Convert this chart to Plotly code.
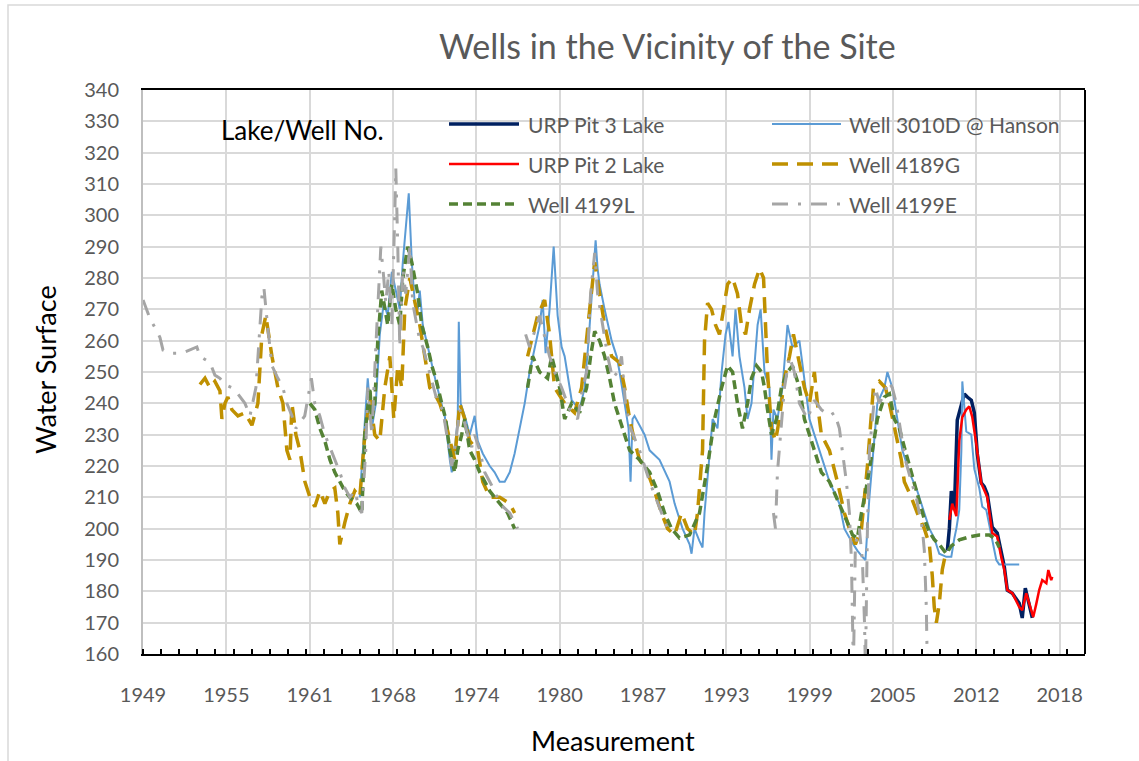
import datetime as dt
import plotly.graph_objects as go

# ---------------------------------------------------------------
# Water-surface records (decimal year, elevation); None = no record
# ---------------------------------------------------------------
pit3_year = [2010.06, 2010.21, 2010.36, 2010.51, 2010.59, 2010.81, 2011.12, 2011.34, 2011.57,
             2011.87, 2012.10, 2012.32, 2012.62, 2012.85, 2013.08, 2013.45, 2013.83, 2014.13,
             2014.36, 2014.59, 2014.97, 2015.49, 2015.72, 2015.95, 2016.10, 2016.48]
pit3_level = [193, 200, 212, 207, 206, 234.7, 240, 243, 242,
              241, 237, 224, 214.6, 213.4, 211, 200.5, 198.6, 193,
              188, 180.4, 179.4, 176.2, 171.5, 181, 178, 171.5]

w3010d_year = [1965.66, 1966.04, 1966.26, 1966.57, 1966.87, 1967.17, 1967.47, 1967.77, 1968.08,
               1968.38, 1968.68, 1968.91, 1969.21, 1969.36, 1969.59, 1969.81, 1970.04, 1970.19,
               1970.42, 1970.79, 1971.10, 1971.40, 1971.70, 1972.08, 1972.46, 1972.61, 1972.83,
               1973.06, 1973.14, 1973.28, 1973.59, 1973.97, 1974.34, 1974.57, 1974.95, 1975.48,
               1975.85, 1976.23, 1976.61, 1976.99, 1977.36, 1977.74, 1978.12, 1978.49, 1978.87,
               1979.25, 1979.48, 1979.70, 1980.00, 1980.31, 1980.61, 1980.91, 1981.14, 1981.67,
               1982.27, 1982.65, 1982.95, 1983.26, 1983.48, 1983.63, 1983.78, 1984.16, 1984.69,
               1985.07, 1985.29, 1985.67, 1985.97, 1986.12, 1986.27, 1986.42, 1987.18, 1987.56,
               1988.31, 1989.07, 1989.45, 1990.05, 1990.58, 1990.73, 1990.95, 1991.33, 1991.56,
               1991.71, 1992.09, 1992.32, 1992.69, 1993.00, 1993.30, 1993.52, 1993.83, 1994.05,
               1994.35, 1994.73, 1994.96, 1995.26, 1995.72, 1995.95, 1996.24, 1996.62, 1996.77,
               1996.92, 1997.22, 1997.60, 1997.98, 1998.13, 1998.35, 1998.88, 1999.33, 1999.64,
               2000.01, 2000.39, 2000.77, 2001.15, 2001.90, 2002.28, 2002.81, 2003.26, 2003.64,
               2003.87, 2004.17, 2004.77, 2005.30, 2005.53, 2005.90, 2006.28, 2006.66, 2007.19,
               2007.79, 2008.32, 2008.70, 2009.07, 2009.45, 2009.98, 2010.36, 2010.59, 2010.74,
               2010.96, 2011.12, 2011.19, 2011.34, 2011.49, 2011.87, 2012.10, 2012.47, 2012.70,
               2013.00, 2013.45, 2013.76, 2013.98, 2015.49]
w3010d_level = [210, 235, 248, 232, 240, 262, 272, 268, 282,
                276, 270, 285, 300, 307, 285, 272, 270, 276,
                265, 258, 252, 247, 242, 236, 222, 218, 225,
                235, 266, 240, 236, 230, 236, 228, 224, 220,
                218, 215, 215, 218, 224, 232, 240, 250, 258,
                265, 273, 256, 270, 290, 268, 258, 255, 241,
                238, 245, 260, 280, 292, 283, 278, 270, 260,
                255, 250, 240, 232, 215, 235, 236, 230, 225,
                222, 215, 208, 200, 195, 192, 200, 196, 194,
                205, 225, 235, 232, 250, 262, 266, 255, 270,
                255, 245, 235, 240, 265, 270, 250, 245, 222,
                238, 235, 245, 265, 262, 258, 260, 245, 235,
                230, 225, 220, 215, 208, 200, 196, 193, 191,
                190, 210, 240, 245, 250, 245, 235, 225, 218,
                212, 205, 200, 197, 192, 191, 191, 197, 200,
                206, 225, 247, 238, 231, 230, 219, 213, 207,
                206, 197, 190, 188.6, 188.6]

pit2_year = [2010.21, 2010.43, 2010.74, 2010.96, 2011.19, 2011.49, 2011.72, 2011.94, 2012.25,
             2012.62, 2012.85, 2013.08, 2013.45, 2013.83, 2014.13, 2014.36, 2014.59, 2014.97,
             2015.49, 2015.72, 2016.02, 2016.25, 2016.55, 2016.78, 2017.00, 2017.23, 2017.54,
             2017.69, 2017.91, 2017.99]
pit2_level = [202.8, 208, 204, 228, 235.6, 238, 239, 235.7, 227,
              214.5, 212.3, 210, 198.6, 197.5, 191, 187, 180.4, 179.4,
              175, 174, 179.4, 176, 171.8, 176, 180.4, 183.6, 182.6,
              186.8, 183.6, 184.6]

w4189g_year = [1953.58, 1953.96, 1954.34, 1954.71, 1955.09, 1955.24, 1955.47, 1955.69, 1955.99,
               1956.45, 1956.98, 1957.51, 1957.96, 1958.26, 1958.56, 1959.02, 1959.47, 1959.85,
               1960.15, 1960.38, 1960.53, 1960.83, 1961.13, 1961.51, 1961.89, 1962.26, 1962.64,
               1963.02, 1963.40, 1963.77, 1964.00, 1964.15, 1964.53, 1964.91, 1965.28, 1965.66,
               1966.04, 1966.42, 1966.79, 1967.17, 1967.55, 1967.93, 1968.23, 1968.53, 1968.83,
               1969.06, 1969.44, 1969.81, 1970.19, 1970.57, 1970.95, 1971.32, 1971.70, 1972.08,
               1972.46, 1972.83, 1973.21, 1973.59, 1973.97, 1974.57, 1974.95, 1975.48, 1976.23,
               1976.99, 1977.36, None, 1978.34, 1978.72, 1979.10, 1979.63, 1980.00, 1980.38,
               1981.14, 1981.89, 1982.42, 1983.03, 1983.41, 1983.78, 1984.16, 1984.69, 1985.29,
               1985.67, 1986.05, 1986.42, 1986.80, 1987.41, 1987.93, 1988.46, 1988.92, 1989.45,
               1989.97, 1990.43, 1990.95, 1991.18, 1991.56, 1991.71, 1991.94, 1992.24, 1992.54,
               1992.84, 1993.15, 1993.45, 1993.83, 1994.20, 1994.50, 1994.81, 1995.11, 1995.49,
               1995.87, 1996.17, 1996.47, 1996.77, 1997.07, 1997.37, 1997.75, 1998.13, 1998.43,
               1998.88, 1999.26, 1999.64, 2000.01, 2000.24, 2000.54, 2001.15, 2001.75, 2002.28,
               2002.66, 2003.11, 2003.57, 2004.02, 2004.47, 2004.92, 2005.38, 2005.68, 2006.05,
               2006.58, 2006.81, 2007.34, 2007.79, 2008.32, 2008.70, 2008.92, 2009.07, 2009.23,
               2009.45, 2009.68, 2009.98]
w4189g_level = [246, 248, 245, 247, 244, 235, 240, 242, 238,
                236, 237, 233, 240, 262, 268, 255, 245, 240,
                225, 222, 240, 230, 225, 215, 210, 207, 212,
                208, 212, 213, 205, 195, 202, 208, 212, 210,
                230, 242, 230, 228, 245, 255, 235, 252, 245,
                270, 280, 272, 265, 255, 245, 243, 240, 235,
                228, 222, 240, 235, 228, 225, 215, 210, 210,
                208, 205, None, 255, 262, 268, 273, 262, 245,
                240, 237, 245, 270, 285, 275, 265, 255, 253,
                245, 235, 228, 222, 218, 212, 205, 200, 198,
                205, 200, 198, 205, 225, 260, 272, 270, 265,
                262, 270, 278, 280, 275, 265, 262, 270, 278,
                283, 280, 250, 232, 228, 235, 248, 255, 262,
                252, 245, 240, 250, 240, 230, 225, 215, 205,
                200, 195, 200, 220, 245, 247, 245, 240, 232,
                222, 215, 210, 205, 200, 195, 185, 175, 170,
                176, 187, 193]

w4199l_year = [1961.89, 1962.26, 1962.64, 1963.02, 1963.40, 1963.77, 1964.15, 1964.53, 1964.91,
               1965.43, 1965.81, 1966.04, 1966.42, 1966.57, 1966.79, 1967.02, 1967.32, 1967.55,
               1967.77, 1968.08, 1968.38, 1968.68, 1968.91, 1969.28, 1969.59, 1969.81, 1970.04,
               1970.34, 1970.79, 1971.10, 1971.40, 1971.85, 1972.15, 1972.46, 1972.83, 1973.06,
               1973.36, 1973.59, 1973.97, 1974.34, 1974.72, 1975.10, 1975.48, 1975.85, 1976.23,
               1976.83, 1977.36, None, 1978.34, 1978.72, 1979.25, 1979.85, 1980.16, 1980.76,
               1981.14, 1981.67, 1982.27, 1982.80, 1983.10, 1983.41, 1983.78, 1984.16, 1984.54,
               1984.91, 1985.29, 1985.67, 1986.05, 1986.80, 1987.56, 1988.16, 1988.69, 1989.22,
               1989.82, 1990.58, 1991.33, 1991.94, 1992.47, 1993.00, 1993.45, 1993.83, 1994.20,
               1994.58, 1994.96, 1995.26, 1995.64, 1996.02, 1996.24, 1996.47, 1996.77, 1997.15,
               1997.52, 1997.98, 1998.35, 1998.66, 1998.88, 1999.26, 1999.64, 2000.01, 2000.54,
               2001.15, 2001.90, 2002.51, 2002.89, 2003.26, 2003.57, 2004.02, 2004.40, 2004.77,
               2005.30, 2005.68, 2006.05, 2006.43, 2006.81, 2007.19, 2007.56, 2007.94, 2008.32,
               2008.70, 2009.07, 2009.45, 2009.98, 2010.36, 2010.96, 2011.72, 2012.47, 2013.23,
               2013.60, 2013.83, 2013.98]
w4199l_level = [240, 238, 232, 228, 222, 218, 215, 212, 210,
                208, 205, 230, 245, 235, 240, 260, 276, 270,
                265, 278, 270, 265, 280, 290, 285, 280, 275,
                265, 258, 252, 248, 240, 235, 225, 218, 225,
                230, 235, 225, 222, 218, 215, 212, 210, 208,
                205, 200, None, 245, 255, 250, 248, 255, 245,
                235, 240, 237, 245, 255, 263, 260, 255, 248,
                240, 235, 230, 225, 222, 218, 212, 205, 200,
                197, 198, 205, 220, 235, 245, 252, 250, 240,
                232, 240, 248, 252, 250, 245, 238, 230, 235,
                245, 250, 252, 248, 245, 235, 230, 225, 218,
                215, 208, 202, 198, 197, 205, 215, 225, 235,
                242, 243, 235, 232, 226, 220, 214, 208, 203,
                199, 196.5, 195, 192, 194.5, 196.4, 197.4, 198, 198,
                197, 195.4, 194]

w4199e_year = [1949.28, 1949.81, 1950.33, 1950.56, 1950.79, 1951.31, 1952.22, 1952.82, 1953.35,
               1953.58, 1953.96, 1954.34, 1954.71, 1955.09, 1955.47, 1955.99, 1956.45, 1956.98,
               1957.36, 1957.81, 1958.26, 1958.41, 1958.71, 1959.02, 1959.47, 1959.85, 1960.15,
               1960.53, 1960.83, 1961.50, 1962.00, 1962.26, 1962.64, 1963.02, 1963.40, 1963.77,
               1964.15, 1964.53, 1964.91, 1965.28, 1965.66, 1965.81, 1966.11, 1966.26, 1966.57,
               1966.87, 1967.25, 1967.47, 1967.62, 1967.85, 1968.08, 1968.30, 1968.38, 1968.53,
               1968.68, 1968.91, 1969.13, 1969.44, 1969.66, 1969.97, 1970.19, 1970.42, 1970.79,
               1971.25, 1971.55, 1971.93, 1972.23, 1972.61, 1972.91, 1973.21, 1973.51, 1973.81,
               1974.12, 1974.34, 1974.72, 1975.10, 1975.48, 1975.85, 1976.23, 1976.99, 1977.59,
               None, 1978.19, 1978.49, 1978.80, 1979.25, 1979.70, 1980.00, 1980.38, 1980.61,
               1980.91, 1981.52, 1982.12, 1982.50, 1982.80, 1983.10, 1983.41, 1983.63, 1984.01,
               1984.39, 1984.76, 1985.14, 1985.44, 1985.74, 1986.12, 1986.50, 1986.80, 1987.18,
               1987.56, 1988.01, 1988.46, 1988.92, 1989.22, None, 1996.92, 1997.07, 1997.22,
               1997.37, 1997.75, 1998.13, 1998.50, 1998.88, 1999.49, 2000.01, 2000.54, 2001.15,
               2001.53, 2001.90, 2002.13, 2002.43, 2002.66, 2002.81, 2002.96, 2003.11, 2003.41,
               2003.64, 2003.80, 2003.87, 2004.02, 2004.17, 2004.40, 2004.62, 2004.92, 2005.30,
               2005.60, 2005.90, 2006.20, 2006.58, 2006.88, 2007.34, 2007.71, 2007.94, 2008.17,
               2008.32, 2008.47, 2008.55]
w4199e_level = [273, 267, 263, 261, 257, 256, 256, 257, 258,
                255, 254, 253, 249, 248, 246, 245, 243, 240,
                236, 245, 274, 277, 264, 252, 248, 245, 240,
                236, 232, 236, 248, 240, 236, 230, 226, 222,
                218, 213, 210, 212, 206, 205, 225, 245, 230,
                258, 290, 280, 272, 282, 265, 300, 315, 290,
                258, 283, 275, 290, 272, 265, 260, 258, 252,
                245, 240, 238, 230, 220, 228, 238, 235, 230,
                226, 230, 225, 218, 215, 212, 208, 205, 200,
                None, 262, 258, 262, 268, 260, 255, 250, 248,
                245, 238, 235, 245, 250, 275, 288, 275, 265,
                255, 248, 250, 255, 240, 232, 228, 225, 220,
                215, 210, 205, 200, 198, None, 205, 200, 218,
                225, 245, 255, 250, 240, 235, 241, 238, 236,
                237, 232, 225, 215, 205, 190, 155, 195, 200,
                190, 170, 155, 200, 225, 235, 245, 240, 243,
                247, 245, 240, 230, 222, 215, 210, 205, 200,
                193, 175, 155]

# ---------------------------------------------------------------
# Series styling (drawn in this order; legend is laid out row-wise)
# ---------------------------------------------------------------
series = [
    dict(name="URP Pit 3 Lake", x=pit3_year, y=pit3_level, color="#002060", width=3.5, dash="solid"),
    dict(name="Well 3010D @ Hanson", x=w3010d_year, y=w3010d_level, color="#5B9BD5", width=2, dash="solid"),
    dict(name="URP Pit 2 Lake", x=pit2_year, y=pit2_level, color="#FF0000", width=2.5, dash="solid"),
    dict(name="Well 4189G", x=w4189g_year, y=w4189g_level, color="#BF9000", width=3.5, dash="16px,9px"),
    dict(name="Well 4199L", x=w4199l_year, y=w4199l_level, color="#548235", width=3.5, dash="9px,5px"),
    dict(name="Well 4199E", x=w4199e_year, y=w4199e_level, color="#A5A5A5", width=3, dash="16px,10px,3px,10px"),
]


def serial_to_year(serial):
    """Spreadsheet day number -> decimal year."""
    d = dt.date(1899, 12, 30) + dt.timedelta(days=serial)
    start = dt.date(d.year, 1, 1)
    length = (dt.date(d.year + 1, 1, 1) - start).days
    return d.year + (d - start).days / length


# Date axis: days 18000..44000, major step 2300 days, minor step 500 days
axis_start = serial_to_year(18000)
axis_end = serial_to_year(44000)
major_step = 2300 / 365.25
minor_step = 500 / 365.25
x_tick_labels = ["1949", "1955", "1961", "1968", "1974", "1980",
                 "1987", "1993", "1999", "2005", "2012", "2018"]
x_tick_vals = [serial_to_year(18000 + 2300 * k) for k in range(len(x_tick_labels))]

FONT = "Lato"
GRID = "#d9d9d9"
TXT = "#595959"

fig = go.Figure()
for s in series:
    fig.add_trace(go.Scatter(
        x=s["x"], y=s["y"], mode="lines", name=s["name"], connectgaps=False,
        line=dict(color=s["color"], width=s["width"], dash=s["dash"]),
        showlegend=False,
    ))

W, H = 1139, 761
L, R, T, B = 143, 54, 90, 107
pw, ph = W - L - R, H - T - B


def px_x(px):
    return (px - L) / pw


def px_y(py):
    return (H - B - py) / ph


shapes = []
annotations = []

# outer chart frame
shapes.append(dict(type="rect", xref="paper", yref="paper",
                   x0=px_x(8), x1=px_x(1150), y0=px_y(775), y1=px_y(5),
                   line=dict(color=GRID, width=1.5), fillcolor="rgba(0,0,0,0)", layer="below"))
# right border of plot area
shapes.append(dict(type="line", xref="paper", yref="paper", x0=1, x1=1, y0=0, y1=1,
                   line=dict(color="black", width=2), layer="above"))

# legend boxes
shapes.append(dict(type="rect", xref="paper", yref="paper",
                   x0=px_x(188), x1=px_x(418), y0=px_y(143), y1=px_y(98),
                   line=dict(width=0), fillcolor="white", layer="between"))
shapes.append(dict(type="rect", xref="paper", yref="paper",
                   x0=px_x(435), x1=px_x(1078), y0=px_y(225), y1=px_y(103),
                   line=dict(width=0), fillcolor="white", layer="between"))
annotations.append(dict(text="Lake/Well No.", xref="paper", yref="paper",
                        x=px_x(302), y=px_y(130), showarrow=False,
                        font=dict(family=FONT, size=26, color="black"),
                        xanchor="center", yanchor="middle"))

col_line = [(449, 519, 526), (772, 841, 847)]
row_y = [124, 164, 204]
for i, s in enumerate(series):
    c0, c1, ct = col_line[i % 2]
    ry = row_y[i // 2]
    shapes.append(dict(type="line", xref="paper", yref="paper",
                       x0=px_x(c0), x1=px_x(c1), y0=px_y(ry), y1=px_y(ry),
                       line=dict(color=s["color"], width=s["width"], dash=s["dash"]),
                       layer="above"))
    annotations.append(dict(text=s["name"], xref="paper", yref="paper",
                            x=px_x(ct), y=px_y(ry), showarrow=False,
                            font=dict(family=FONT, size=21, color=TXT),
                            xanchor="left", yanchor="middle"))

# titles
annotations.append(dict(text="Wells in the Vicinity of the Site", xref="paper", yref="paper",
                        x=px_x(667), y=px_y(45), showarrow=False,
                        font=dict(family=FONT, size=34, color=TXT),
                        xanchor="center", yanchor="middle"))
annotations.append(dict(text="Measurement", xref="paper", yref="paper",
                        x=px_x(613), y=px_y(740), showarrow=False,
                        font=dict(family=FONT, size=27, color="black"),
                        xanchor="center", yanchor="middle"))
annotations.append(dict(text="Water Surface", xref="paper", yref="paper",
                        x=px_x(45), y=px_y(370), showarrow=False, textangle=-90,
                        font=dict(family=FONT, size=27, color="black"),
                        xanchor="center", yanchor="middle"))

fig.update_layout(
    width=W, height=H,
    margin=dict(l=L, r=R, t=T, b=B, pad=0),
    paper_bgcolor="white", plot_bgcolor="white",
    showlegend=False,
    shapes=shapes, annotations=annotations,
    font=dict(family=FONT, color=TXT),
)

fig.update_xaxes(
    range=[axis_start, axis_end],
    tickmode="array", tickvals=x_tick_vals, ticktext=x_tick_labels,
    ticks="", showgrid=True, gridcolor=GRID, gridwidth=1.5,
    showline=True, linecolor="black", linewidth=2, mirror=True,
    tickfont=dict(family=FONT, size=20, color=TXT),
    ticklabelstandoff=22,
    zeroline=False,
    minor=dict(tickmode="linear", tick0=axis_start, dtick=minor_step,
               ticks="inside", ticklen=5, tickwidth=1.5, tickcolor="black", showgrid=False),
)
fig.update_yaxes(
    range=[160, 340], tickmode="linear", tick0=160, dtick=10,
    ticks="", showgrid=True, gridcolor=GRID, gridwidth=1.5,
    showline=True, linecolor="#bfbfbf", linewidth=2,
    tickfont=dict(family=FONT, size=20, color=TXT),
    ticklabelstandoff=18,
    zeroline=False,
)

fig.write_html("out.html")
